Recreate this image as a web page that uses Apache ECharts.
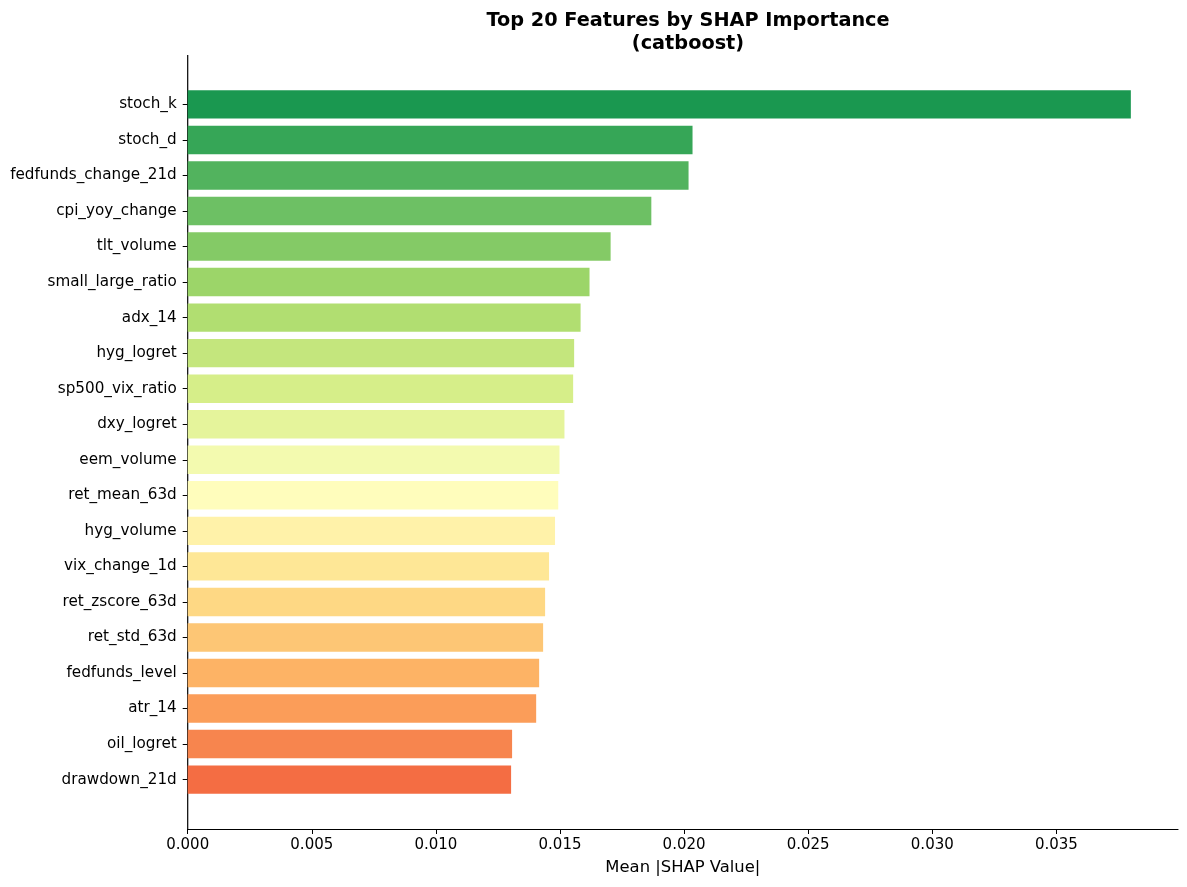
<!DOCTYPE html>
<html>
<head>
<meta charset="utf-8">
<title>Top 20 Features by SHAP Importance</title>
<script src="https://cdn.jsdelivr.net/npm/echarts@6/dist/echarts.min.js"></script>
<style>
  html, body { margin: 0; padding: 0; background: #fff; }
  #chart { width: 1187px; height: 887px; }
</style>
</head>
<body>
<div id="chart"></div>
<script>
// feature names, top to bottom
var features = [
  'stoch_k', 'stoch_d', 'fedfunds_change_21d', 'cpi_yoy_change', 'tlt_volume',
  'small_large_ratio', 'adx_14', 'hyg_logret', 'sp500_vix_ratio', 'dxy_logret',
  'eem_volume', 'ret_mean_63d', 'hyg_volume', 'vix_change_1d', 'ret_zscore_63d',
  'ret_std_63d', 'fedfunds_level', 'atr_14', 'oil_logret', 'drawdown_21d'
];
// mean |SHAP| values
var shapValues = [
  0.03800, 0.02034, 0.02018, 0.01868, 0.01704,
  0.01619, 0.01583, 0.01557, 0.01553, 0.01518,
  0.01498, 0.01493, 0.01480, 0.01456, 0.01440,
  0.01432, 0.01416, 0.01404, 0.01307, 0.01303
];
var xTicks = [0, 0.005, 0.010, 0.015, 0.020, 0.025, 0.030, 0.035];

// RdYlGn colormap anchors
var rdylgn = ['#a50026', '#d73027', '#f46d43', '#fdae61', '#fee08b', '#ffffbf',
              '#d9ef8b', '#a6d96a', '#66bd63', '#1a9850', '#006837'];
function cmap(t) {
  var p = t * 10, i = Math.min(9, Math.floor(p)), f = p - i;
  var a = rdylgn[i], b = rdylgn[i + 1];
  var c = [1, 3, 5].map(function (k) {
    var x = parseInt(a.substr(k, 2), 16), y = parseInt(b.substr(k, 2), 16);
    return Math.round(x + (y - x) * f);
  });
  return 'rgb(' + c.join(',') + ')';
}

var barData = shapValues.map(function (v, i) {
  return { value: v, itemStyle: { color: cmap(0.9 - i * 0.7 / 19) } };
});

var chart = echarts.init(document.getElementById('chart'));
var font = 'DejaVu Sans';
chart.setOption({
  animation: false,
  backgroundColor: '#ffffff',
  title: {
    text: 'Top 20 Features by SHAP Importance\n(catboost)',
    left: 683, top: 4, textAlign: 'center',
    textStyle: { fontFamily: font, fontSize: 19.3, fontWeight: 'bold', color: '#000', lineHeight: 23 }
  },
  grid: { left: 187.7, right: 9, top: 86.6, bottom: 89.6 },
  xAxis: {
    type: 'value', min: 0, max: 0.0399, interval: 0.005,
    offset: 31.6,
    name: 'Mean |SHAP Value|', nameLocation: 'middle', nameGap: 31,
    nameTextStyle: { fontFamily: font, fontSize: 16.4, color: '#000' },
    axisLine: { show: true, lineStyle: { color: '#000', width: 1.2 } },
    axisTick: { show: true, length: 5, lineStyle: { color: '#000' }, customValues: xTicks },
    axisLabel: {
      fontFamily: font, fontSize: 15, color: '#000', margin: 9,
      customValues: xTicks,
      formatter: function (v) { return v.toFixed(3); }
    },
    splitLine: { show: false }
  },
  yAxis: {
    type: 'category', data: features, inverse: true,
    axisLine: { show: false },
    axisTick: { show: true, length: 5, alignWithLabel: true, lineStyle: { color: '#000' } },
    axisLabel: { fontFamily: font, fontSize: 15.2, color: '#000', margin: 11, padding: [2, 0, 0, 0] }
  },
  graphic: [{
    type: 'line', silent: true,
    shape: { x1: 187.7, y1: 55, x2: 187.7, y2: 829 },
    style: { stroke: '#000', lineWidth: 1.2 }
  }],
  series: [{
    type: 'bar', data: barData, barWidth: '80%'
  }]
});
</script>
</body>
</html>
